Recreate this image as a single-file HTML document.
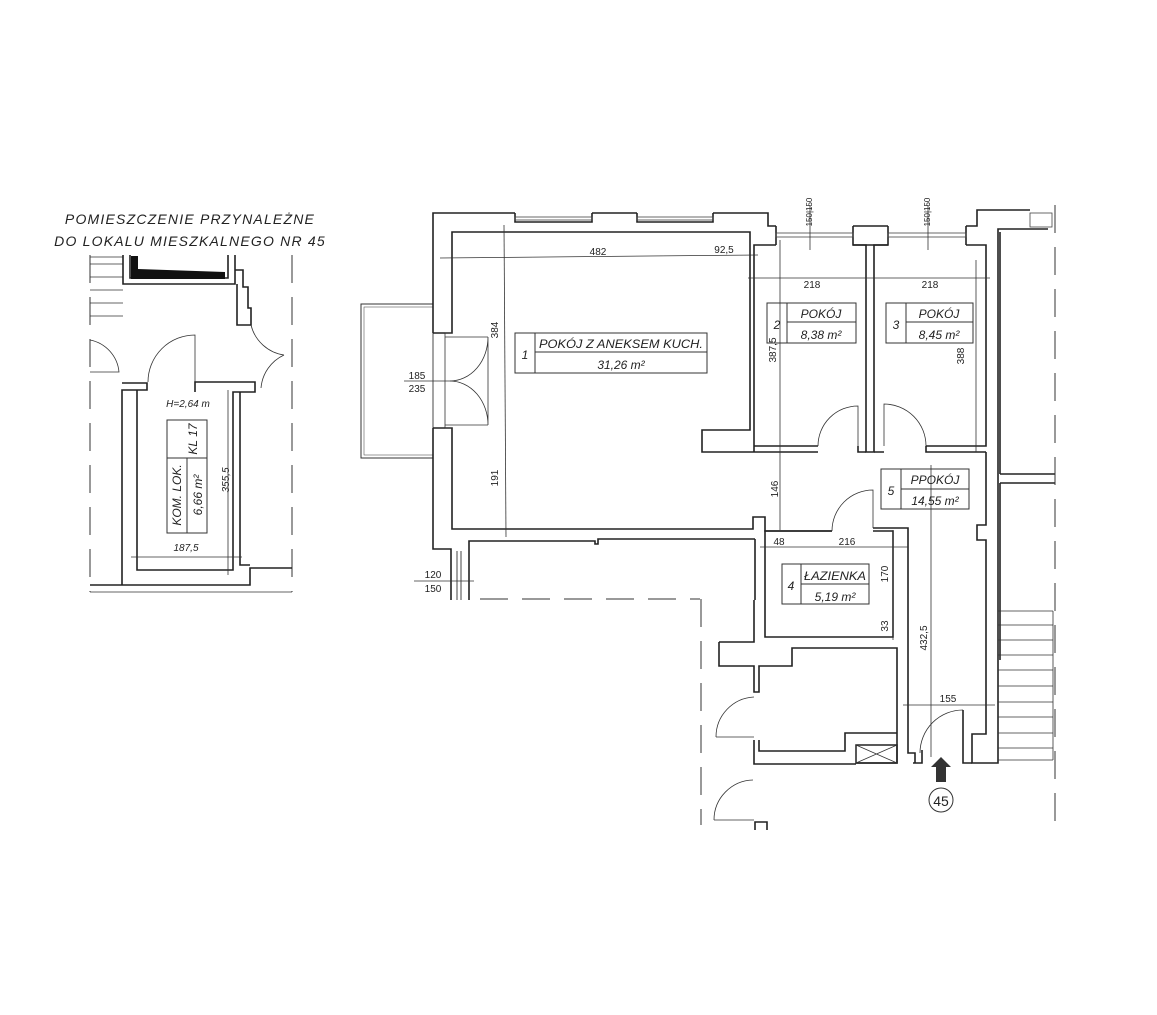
<!DOCTYPE html>
<html><head><meta charset="utf-8"><style>
html,body{margin:0;padding:0;background:#fff;}
svg{display:block;}
text{font-family:"Liberation Sans",sans-serif;font-style:italic;fill:#222;}
.w{fill:none;stroke:#222;stroke-width:1.6;stroke-linejoin:miter;}
.t{fill:none;stroke:#333;stroke-width:0.8;}
.d{fill:none;stroke:#333;stroke-width:1;stroke-dasharray:28 14;}
</style></head><body>
<svg width="1157" height="1015" viewBox="0 0 1157 1015" xmlns="http://www.w3.org/2000/svg">
<rect width="1157" height="1015" fill="#fff"/>

<!-- ============ LEFT SMALL PLAN ============ -->
<text x="190" y="224" font-size="14" text-anchor="middle" letter-spacing="1.2">POMIESZCZENIE PRZYNALEŻNE</text>
<text x="190" y="246" font-size="14" text-anchor="middle" letter-spacing="1.2">DO LOKALU MIESZKALNEGO NR 45</text>
<line class="d" x1="90" y1="255" x2="90" y2="592"/>
<line class="d" x1="292" y1="255" x2="292" y2="592"/>
<g class="t"><line x1="90" y1="257" x2="123" y2="257"/><line x1="90" y1="264" x2="123" y2="264"/><line x1="90" y1="277" x2="123" y2="277"/><line x1="90" y1="290" x2="123" y2="290"/><line x1="90" y1="303" x2="123" y2="303"/><line x1="90" y1="316" x2="123" y2="316"/></g>
<path class="w" d="M123,255 V284 H235 V255 M130,255 V278 H228 V255"/>
<polygon points="131,256 138,256 138,269 225,272 225,279 131,279" fill="#111"/>
<path class="w" d="M235,270 H243 V287 H248 V308 H251 V325 H237 V284"/>
<path class="t" d="M148,382 A47,47 0 0 1 195,335 V382"/>
<path class="t" d="M90,340 A36,36 0 0 1 119,372 H90"/>
<path class="t" d="M251,325 A40,40 0 0 0 284,355 M284,355 A40,40 0 0 0 261,388"/>
<path class="w" d="M122,585 V390 H147 V383 H122 M137,390 V570 H233 V392 H255 V382 H195 V392"/>
<path class="w" d="M90,585 H250 V568 H292 M240,392 V565 H250"/>
<line class="t" x1="90" y1="592" x2="292" y2="592"/>
<text x="188" y="407" font-size="10" text-anchor="middle">H=2,64 m</text>
<rect x="167" y="420" width="40" height="113" fill="none" stroke="#333" stroke-width="1"/>
<line x1="167" y1="458" x2="207" y2="458" stroke="#333" stroke-width="1"/>
<line x1="187" y1="458" x2="187" y2="533" stroke="#333" stroke-width="1"/>
<text transform="translate(197,439) rotate(-90)" font-size="12" text-anchor="middle">KL 17</text>
<text transform="translate(181,495) rotate(-90)" font-size="12" text-anchor="middle">KOM. LOK.</text>
<text transform="translate(202,495) rotate(-90)" font-size="12" text-anchor="middle">6,66 m²</text>
<text transform="translate(229,480) rotate(-90)" font-size="10" text-anchor="middle" fill="#444">355,5</text>
<text x="186" y="551" font-size="10" text-anchor="middle" fill="#444">187,5</text>
<line class="t" x1="131" y1="557" x2="242" y2="557"/>
<line class="t" x1="228" y1="390" x2="228" y2="575"/>

<!-- ============ MAIN PLAN ============ -->
<rect x="361" y="304" width="72" height="154" fill="none" stroke="#333" stroke-width="1"/>
<rect x="364" y="307" width="69" height="148" fill="none" stroke="#555" stroke-width="0.6"/>
<path class="w" d="M433,333 V213 H515 M592,213 H637 M713,213 H768 V226 H776 M853,226 H888 M966,226 H977 V210 H1030"/>
<path class="w" d="M515,213 V222 H592 V213 M637,213 V222 H713 V213"/>
<rect x="515" y="217" width="77" height="3" fill="none" stroke="#444" stroke-width="0.8"/>
<rect x="637" y="217" width="76" height="3" fill="none" stroke="#444" stroke-width="0.8"/>
<path class="w" d="M776,226 V245 M853,226 V245 H888 V226 M966,226 V245"/>
<rect x="776" y="233" width="77" height="4" fill="none" stroke="#444" stroke-width="0.8"/>
<rect x="888" y="233" width="78" height="4" fill="none" stroke="#444" stroke-width="0.8"/>
<rect x="1030" y="213" width="22" height="14" fill="none" stroke="#444" stroke-width="0.8"/>
<path class="w" d="M433,333 H452 V232 H750 V430 H702 V452 H818"/>
<path class="w" d="M433,428 V549 H451 V600 M469,600 V541 H595 V544 H598 V539 H755"/>
<path class="w" d="M433,428 H452 V529 H753 V517 H765 V531 H832"/>
<line x1="457" y1="551" x2="457" y2="600" stroke="#444" stroke-width="1"/>
<line x1="461" y1="551" x2="461" y2="600" stroke="#444" stroke-width="1"/>
<!-- balcony double door -->
<path class="t" d="M445,333 V428 M445,333 H452 M445,428 H452 M488,337 V381 M488,381 V425 M445,337 H488 M445,425 H488 M488,337 A38,44 0 0 1 450,381 A38,44 0 0 1 488,425"/>
<path class="w" d="M754,452 V245 H776 M853,245 H866 V452 H874 V245 H888 M966,245 H986 V446 H926"/>
<path class="w" d="M754,446 H818 M858,446 V452 H866"/>
<path class="t" d="M818,446 A40,40 0 0 1 858,406 V446"/>
<path class="t" d="M926,446 A42,42 0 0 0 884,404 V446"/>
<path class="w" d="M874,452 H884 M926,446 V452 H986"/>
<path class="w" d="M986,452 V525 H977 V540 H986 V734 H972 V763 H998 V229 H1048"/>
<path class="w" d="M1000,474 V232 M1000,474 H1055 M1000,483 H1055 M1000,483 V660"/>
<line class="d" x1="1055" y1="205" x2="1055" y2="822"/>
<g class="t">
<line x1="998" y1="611" x2="1053" y2="611"/><line x1="998" y1="625" x2="1053" y2="625"/><line x1="998" y1="640" x2="1053" y2="640"/><line x1="998" y1="655" x2="1053" y2="655"/><line x1="998" y1="670" x2="1053" y2="670"/><line x1="998" y1="686" x2="1053" y2="686"/><line x1="998" y1="702" x2="1053" y2="702"/><line x1="998" y1="717" x2="1053" y2="717"/><line x1="998" y1="733" x2="1053" y2="733"/><line x1="998" y1="748" x2="1053" y2="748"/><line x1="998" y1="760" x2="1053" y2="760"/>
<line x1="1053" y1="611" x2="1053" y2="760"/>
</g>
<path class="w" d="M832,531 H765 V637 H893 V531 H873 M873,528 H908 V753 H915 V763"/>
<path class="t" d="M832,531 A41,41 0 0 1 873,490 V528"/>
<path class="w" d="M755,539 V600"/>
<path class="w" d="M719,642 H754 V600 M719,642 V666 H754 V692 H759 V666 H792 V648 H897 V763 H856 M754,740 V764 H856 M759,740 V751 H845 V733 H897"/>
<rect x="856" y="745" width="41" height="18" fill="none" stroke="#222" stroke-width="1.5"/>
<path class="t" d="M856,745 L897,763 M897,745 L856,763"/>
<path class="t" d="M716,737 A40,40 0 0 1 754,697 M716,737 H754"/>
<path class="t" d="M714,820 A40,40 0 0 1 753,780 M714,820 H754"/>
<path class="w" d="M755,830 V822 H767 V830"/>
<path class="w" d="M913,763 H922 V750"/>
<path class="t" d="M920,753 A43,43 0 0 1 963,710"/>
<path class="w" d="M963,710 V763 H972"/>
<line class="d" x1="480" y1="599" x2="700" y2="599"/>
<line class="d" x1="701" y1="599" x2="701" y2="825"/>
<g class="t">
<line x1="440" y1="258" x2="758" y2="255"/>
<line x1="504" y1="225" x2="506" y2="537"/>
<line x1="780" y1="240" x2="780" y2="530"/>
<line x1="748" y1="278" x2="990" y2="278"/>
<line x1="976" y1="260" x2="976" y2="452"/>
<line x1="810" y1="205" x2="810" y2="250"/><line x1="928" y1="205" x2="928" y2="250"/>
<line x1="760" y1="547" x2="908" y2="547"/>
<line x1="893" y1="530" x2="893" y2="640"/>
<line x1="931" y1="465" x2="931" y2="757"/>
<line x1="903" y1="705" x2="995" y2="705"/>
<line x1="404" y1="381" x2="452" y2="381"/>
<line x1="414" y1="581" x2="474" y2="581"/>
</g>
<g font-size="10" fill="#444">
<text x="598" y="255" text-anchor="middle" style="font-style:normal">482</text>
<text x="724" y="253" text-anchor="middle" style="font-style:normal">92,5</text>
<text transform="translate(498,330) rotate(-90)" text-anchor="middle" style="font-style:normal">384</text>
<text transform="translate(498,478) rotate(-90)" text-anchor="middle" style="font-style:normal">191</text>
<text x="417" y="379" text-anchor="middle" style="font-style:normal">185</text>
<text x="417" y="392" text-anchor="middle" style="font-style:normal">235</text>
<text x="433" y="578" text-anchor="middle" style="font-style:normal">120</text>
<text x="433" y="592" text-anchor="middle" style="font-style:normal">150</text>
<text x="812" y="288" text-anchor="middle" style="font-style:normal">218</text>
<text x="930" y="288" text-anchor="middle" style="font-style:normal">218</text>
<text transform="translate(776,350) rotate(-90)" text-anchor="middle" style="font-style:normal">387,5</text>
<text transform="translate(964,356) rotate(-90)" text-anchor="middle" style="font-style:normal">388</text>
<text transform="translate(778,489) rotate(-90)" text-anchor="middle" style="font-style:normal">146</text>
<text x="779" y="545" text-anchor="middle" style="font-style:normal">48</text>
<text x="847" y="545" text-anchor="middle" style="font-style:normal">216</text>
<text transform="translate(888,574) rotate(-90)" text-anchor="middle" style="font-style:normal">170</text>
<text transform="translate(888,626) rotate(-90)" text-anchor="middle" style="font-style:normal">33</text>
<text transform="translate(927,638) rotate(-90)" text-anchor="middle" style="font-style:normal">432,5</text>
<text x="948" y="702" text-anchor="middle" style="font-style:normal">155</text>
<text transform="translate(812,212) rotate(-90)" text-anchor="middle" font-size="8" style="font-style:normal">150|150</text>
<text transform="translate(930,212) rotate(-90)" text-anchor="middle" font-size="8" style="font-style:normal">150|150</text>
</g>
<g stroke="#333" stroke-width="1" fill="none">
<rect x="515" y="333" width="192" height="40"/><line x1="535" y1="333" x2="535" y2="373"/><line x1="535" y1="352" x2="707" y2="352"/>
<rect x="767" y="303" width="89" height="40"/><line x1="787" y1="303" x2="787" y2="343"/><line x1="787" y1="322" x2="856" y2="322"/>
<rect x="886" y="303" width="87" height="40"/><line x1="906" y1="303" x2="906" y2="343"/><line x1="906" y1="322" x2="973" y2="322"/>
<rect x="881" y="469" width="88" height="40"/><line x1="901" y1="469" x2="901" y2="509"/><line x1="901" y1="489" x2="969" y2="489"/>
<rect x="782" y="564" width="87" height="40"/><line x1="801" y1="564" x2="801" y2="604"/><line x1="801" y1="584" x2="869" y2="584"/>
</g>
<g font-size="12">
<text x="525" y="359" text-anchor="middle">1</text>
<text x="539" y="348" textLength="164" lengthAdjust="spacingAndGlyphs">POKÓJ Z ANEKSEM KUCH.</text>
<text x="621" y="369" text-anchor="middle">31,26 m²</text>
<text x="777" y="329" text-anchor="middle">2</text>
<text x="821" y="318" text-anchor="middle">POKÓJ</text>
<text x="821" y="339" text-anchor="middle">8,38 m²</text>
<text x="896" y="329" text-anchor="middle">3</text>
<text x="939" y="318" text-anchor="middle">POKÓJ</text>
<text x="939" y="339" text-anchor="middle">8,45 m²</text>
<text x="891" y="495" text-anchor="middle">5</text>
<text x="935" y="484" text-anchor="middle">PPOKÓJ</text>
<text x="935" y="505" text-anchor="middle">14,55 m²</text>
<text x="791" y="590" text-anchor="middle">4</text>
<text x="835" y="580" text-anchor="middle" textLength="62" lengthAdjust="spacingAndGlyphs">ŁAZIENKA</text>
<text x="835" y="601" text-anchor="middle">5,19 m²</text>
</g>
<polygon points="941,757 951,767 946,767 946,782 936,782 936,767 931,767" fill="#333"/>
<circle cx="941" cy="800" r="12" fill="none" stroke="#333" stroke-width="1"/>
<text x="941" y="806" font-size="14" text-anchor="middle" style="font-style:normal">45</text>
</svg>
</body></html>
